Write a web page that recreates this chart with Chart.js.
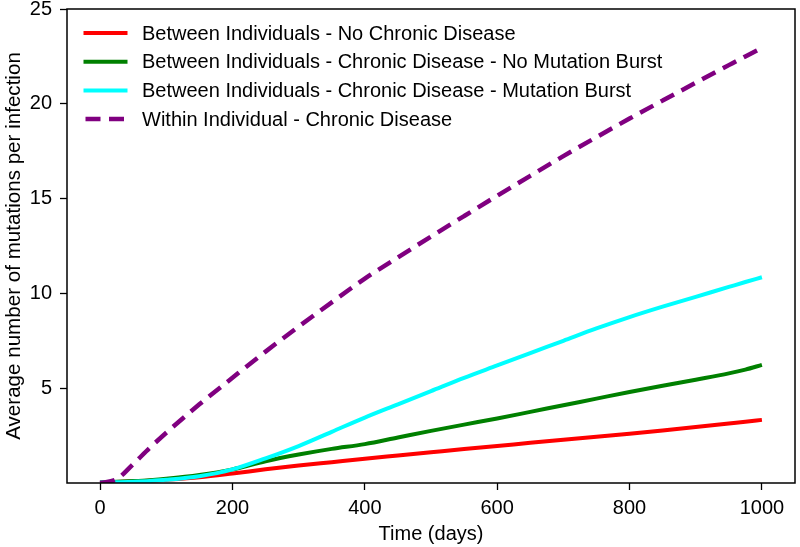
<!DOCTYPE html>
<html><head><meta charset="utf-8">
<script src="https://cdn.jsdelivr.net/npm/chart.js@4.4.0/dist/chart.umd.min.js"></script>
<style>html,body{margin:0;padding:0;background:#fff}</style>
</head><body>
<canvas id="c" width="800" height="547"></canvas>
<script>
const days = [0,25,50,75,100,150,200,250,300,350,400,450,500,550,600,650,700,750,800,850,900,950,975,1000];
const noChronic = [0.03,0.05,0.08,0.12,0.17,0.3,0.5,0.72,0.92,1.1,1.28,1.45,1.62,1.79,1.95,2.12,2.28,2.44,2.6,2.77,2.95,3.14,3.23,3.33];
const chronicNoBurst = [0.03,0.06,0.1,0.15,0.22,0.42,0.72,1.15,1.5,1.8,2.05,2.4,2.75,3.08,3.4,3.75,4.1,4.45,4.8,5.13,5.45,5.78,5.98,6.23];
const chronicBurst = [0.03,0.04,0.07,0.11,0.17,0.36,0.72,1.3,1.95,2.7,3.45,4.15,4.85,5.55,6.2,6.85,7.5,8.15,8.75,9.3,9.82,10.34,10.6,10.85];
const withinChronic = [0,0.2,1.0,1.85,2.65,4.15,5.55,6.93,8.25,9.53,10.78,11.9,13.0,14.08,15.15,16.2,17.24,18.24,19.22,20.17,21.11,22.04,22.5,22.94];
const xTicks = [0,200,400,600,800,1000];
const yTicks = [5,10,15,20,25];
const labels = ['Between Individuals - No Chronic Disease','Between Individuals - Chronic Disease - No Mutation Burst','Between Individuals - Chronic Disease - Mutation Burst','Within Individual - Chronic Disease'];

const FONT = '"Liberation Sans", Arial, Helvetica, sans-serif';
const pts = arr => days.map((d,i)=>({x:d,y:arr[i]}));

const boxPlugin = {
  id:'box',
  afterDraw(chart){
    const {ctx, chartArea:a} = chart;
    ctx.save();
    ctx.strokeStyle='#000'; ctx.lineWidth=1.5;
    ctx.strokeRect(a.left, a.top, a.right-a.left, a.bottom-a.top);
    ctx.restore();
  }
};
const legendPlugin = {
  id:'inlegend',
  afterDatasetsDraw(chart){
    const {ctx, chartArea:a} = chart;
    ctx.save();
    ctx.font = '20px ' + FONT;
    ctx.textBaseline = 'middle';
    chart.data.datasets.forEach((ds,i)=>{
      const y = a.top + 24 + i*28.7;
      const x0 = a.left + 18.5, x1 = a.left + 58.5;
      ctx.beginPath();
      ctx.strokeStyle = ds.borderColor;
      ctx.lineWidth = ds.borderWidth;
      if (ds.borderDash) { ctx.setLineDash(ds.borderDash); ctx.lineCap='butt'; }
      else { ctx.setLineDash([]); ctx.lineCap='square'; }
      ctx.moveTo(x0,y); ctx.lineTo(x1,y); ctx.stroke();
      ctx.setLineDash([]);
      ctx.fillStyle = '#000';
      ctx.fillText(ds.label, a.left + 75, y+1);
    });
    ctx.restore();
  }
};

const common = {tension:0.4, cubicInterpolationMode:'monotone', pointRadius:0, fill:false, borderCapStyle:'butt'};
new Chart(document.getElementById('c'), {
  type:'line',
  data:{datasets:[
    {...common, label:labels[0], data:pts(noChronic), borderColor:'#ff0000', borderWidth:4, order:4},
    {...common, label:labels[1], data:pts(chronicNoBurst), borderColor:'#008000', borderWidth:4, order:3},
    {...common, label:labels[2], data:pts(chronicBurst), borderColor:'#00ffff', borderWidth:4, order:2},
    {...common, label:labels[3], data:pts(withinChronic), borderColor:'#800080', borderWidth:4.5, borderDash:[15,8.5], order:1}
  ]},
  options:{
    responsive:false, animation:false, devicePixelRatio:1,
    layout:{padding:{top:9,right:5,left:0,bottom:0}},
    plugins:{legend:{display:false}, tooltip:{enabled:false}},
    scales:{
      x:{type:'linear', min:-50, max:1050,
        afterBuildTicks:s=>{s.ticks = xTicks.map(v=>({value:v}));},
        afterFit:s=>{s.height = 64;},
        border:{display:false},
        grid:{display:true, drawOnChartArea:false, drawTicks:true, tickLength:7, color:'#000', tickColor:'#000', tickWidth:1.3},
        ticks:{color:'#000', font:{family:FONT, size:20}, padding:6, maxRotation:0, autoSkip:false, callback:v=>String(v)},
        title:{display:true, text:'Time (days)', color:'#000', font:{family:FONT, size:20}, padding:{top:2,bottom:1}}
      },
      y:{type:'linear', min:0, max:25,
        afterBuildTicks:s=>{s.ticks = yTicks.map(v=>({value:v}));},
        afterFit:s=>{s.width = 67; s.paddingTop = 0; s.paddingBottom = 0;},
        border:{display:false},
        grid:{display:true, drawOnChartArea:false, drawTicks:true, tickLength:7, color:'#000', tickColor:'#000', tickWidth:1.3},
        ticks:{color:'#000', font:{family:FONT, size:20}, padding:8, autoSkip:false, callback:v=>String(v)},
        title:{display:true, text:'Average number of mutations per infection', color:'#000', font:{family:FONT, size:20.6}, padding:{top:2,bottom:2}}
      }
    }
  },
  plugins:[boxPlugin, legendPlugin]
});
</script>
</body></html>
